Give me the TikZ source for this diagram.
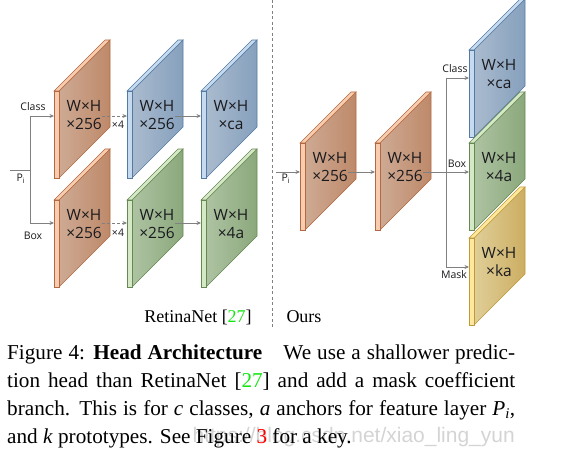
\documentclass[tikz,border=0pt]{standalone}
\usepackage{fontspec}
\setmainfont{Liberation Serif}
\newfontfamily\diagfont{Open Sans}
\newfontfamily\markfont{Liberation Sans}
\usetikzlibrary{arrows.meta}

\definecolor{orL}{RGB}{206,170,147}
\definecolor{orR}{RGB}{190,137,106}
\definecolor{orS}{RGB}{248,204,174}
\definecolor{orE}{RGB}{178,104,64}
\definecolor{blL}{RGB}{170,187,206}
\definecolor{blR}{RGB}{134,160,189}
\definecolor{blS}{RGB}{198,219,240}
\definecolor{blE}{RGB}{84,122,162}
\definecolor{gnL}{RGB}{174,195,162}
\definecolor{gnR}{RGB}{139,168,124}
\definecolor{gnS}{RGB}{214,233,199}
\definecolor{gnE}{RGB}{102,136,82}
\definecolor{ylL}{RGB}{224,206,152}
\definecolor{ylR}{RGB}{204,174,98}
\definecolor{ylS}{RGB}{255,231,156}
\definecolor{ylE}{RGB}{190,154,58}
\definecolor{arrowgray}{RGB}{128,128,128}
\definecolor{ink}{RGB}{26,26,30}
\definecolor{citegreen}{RGB}{20,230,20}
\definecolor{markgray}{RGB}{212,212,212}

% #1 name, #2 x, #3 y (top of front strip), #4 colour, #5 text, #6 arrow height
\newcommand{\slab}[6]{%
  \shadedraw[left color=#4L,right color=#4R,draw=#4E,line width=.6pt]
    ({#2+5},#3) -- ({#2+56},{#3-51}) -- ({#2+56},{#3+36}) -- ({#2+5},{#3+87}) -- cycle;
  \filldraw[fill=#4S,draw=#4E,line width=.6pt]
    (#2,#3) -- ({#2+51},{#3-51}) -- ({#2+56},{#3-51}) -- ({#2+5},#3) -- cycle;
  \filldraw[fill=#4S,draw=#4E,line width=.6pt] (#2,#3) rectangle ({#2+5},{#3+87});
  \coordinate (#1-in) at (#2,{#3+#6});
  \node[face] (#1) at ({#2+30},{#3+24}) {#5};
}

\begin{document}
\begin{tikzpicture}[x=1pt,y=-1pt,
    face/.style={inner sep=0pt,align=center,text=ink,
      font=\diagfont\fontsize{15.5}{17.5}\selectfont},
    tag/.style={inner sep=0pt,text=ink,font=\diagfont\fontsize{10.5}{12}\selectfont},
    arr/.style={draw=arrowgray,line width=.8pt,-{Stealth[length=4.5pt,width=4pt]}},
    rep/.style={arr,dash pattern=on 3pt off 2pt},
    ln/.style={draw=arrowgray,line width=.8pt}]
  \useasboundingbox (0,0) rectangle (565,454);

  \draw[arrowgray,line width=.7pt,dash pattern=on 3pt off 2.5pt] (272,0) -- (272,328);

  \slab{a1}{54}{91}{or}{W×H\\×256}{25}
  \slab{a2}{127}{91}{bl}{W×H\\×256}{25}
  \slab{a3}{201}{91}{bl}{W×H\\×ca}{25}
  \slab{b1}{54}{200}{or}{W×H\\×256}{23}
  \slab{b2}{127}{200}{gn}{W×H\\×256}{23}
  \slab{b3}{201}{200}{gn}{W×H\\×4a}{23}

  \coordinate (pL) at (10,170);
  \coordinate (fL) at (30,170);
  \draw[ln] (pL) -- (fL);
  \draw[ln] (fL |- a1-in) -- (fL |- b1-in);
  \foreach \r in {a,b} {
    \draw[arr] (fL |- \r1-in) -- (\r1-in);
    \draw[rep] (\r1.east |- \r2-in) -- (\r2-in);
    \draw[arr] (\r2.east |- \r3-in) -- (\r3-in);
  }
  \node[tag] (pLlbl) at (21,179) {P\textsubscript{i}};
  \node[tag] (clsL) at (33,107) {Class};
  \node[tag] (boxL) at (33,236) {Box};
  \node[tag] (repA) at (118,125) {×4};
  \node[tag] (repB) at (118,233) {×4};

  \slab{o1}{300}{143}{or}{W×H\\×256}{29}
  \slab{o2}{375}{143}{or}{W×H\\×256}{29}
  \slab{c1}{469}{50}{bl}{W×H\\×ca}{28}
  \slab{c2}{469}{143}{gn}{W×H\\×4a}{29}
  \slab{c3}{469}{238}{yl}{W×H\\×ka}{29}

  \coordinate (pR) at (276,172);
  \coordinate (fR) at (446,172);
  \draw[arr] (pR) -- (o1-in);
  \draw[arr] (o1.east |- o2-in) -- (o2-in);
  \draw[ln] (o2.east |- fR) -- (fR);
  \draw[ln] (fR |- c1-in) -- (fR |- c3-in);
  \foreach \c in {c1,c2,c3}
    \draw[arr] (fR |- \c-in) -- (\c-in);
  \node[tag] (pRlbl) at (286,179) {P\textsubscript{i}};
  \node[tag] (clsR) at (455,69) {Class};
  \node[tag] (boxR) at (457,164) {Box};
  \node[tag] (mskR) at (454,275) {Mask};

  \node[font=\fontsize{18}{20}\selectfont,inner sep=0pt] (retina) at (198,317)
    {RetinaNet [{\color{citegreen}27}]};
  \node[font=\fontsize{18}{20}\selectfont,inner sep=0pt] (ours) at (304,317) {Ours};

  \node[anchor=base east,inner sep=0pt,text=markgray,
    font=\markfont\fontsize{21}{24}\selectfont] (mark) at (515,442)
    {https://blog.csdn.net/xiao\_ling\_yun};
  \node[anchor=north west,inner sep=0pt,text width=508pt,align=justify,
    font=\fontsize{21.2}{27.8}\selectfont] (caption) at (7,345)
    {Figure 4: \textbf{Head Architecture}\quad We use a shallower predic-\linebreak
     tion head than RetinaNet [{\color{citegreen}27}] and add a mask coefficient\linebreak
     branch. This is for \textit{c} classes, \textit{a} anchors for feature layer
     \textit{P}\textsubscript{\textit{i}},\linebreak
     and \textit{k} prototypes. See Figure {\color{red}3} for a key.};
\end{tikzpicture}
\end{document}
